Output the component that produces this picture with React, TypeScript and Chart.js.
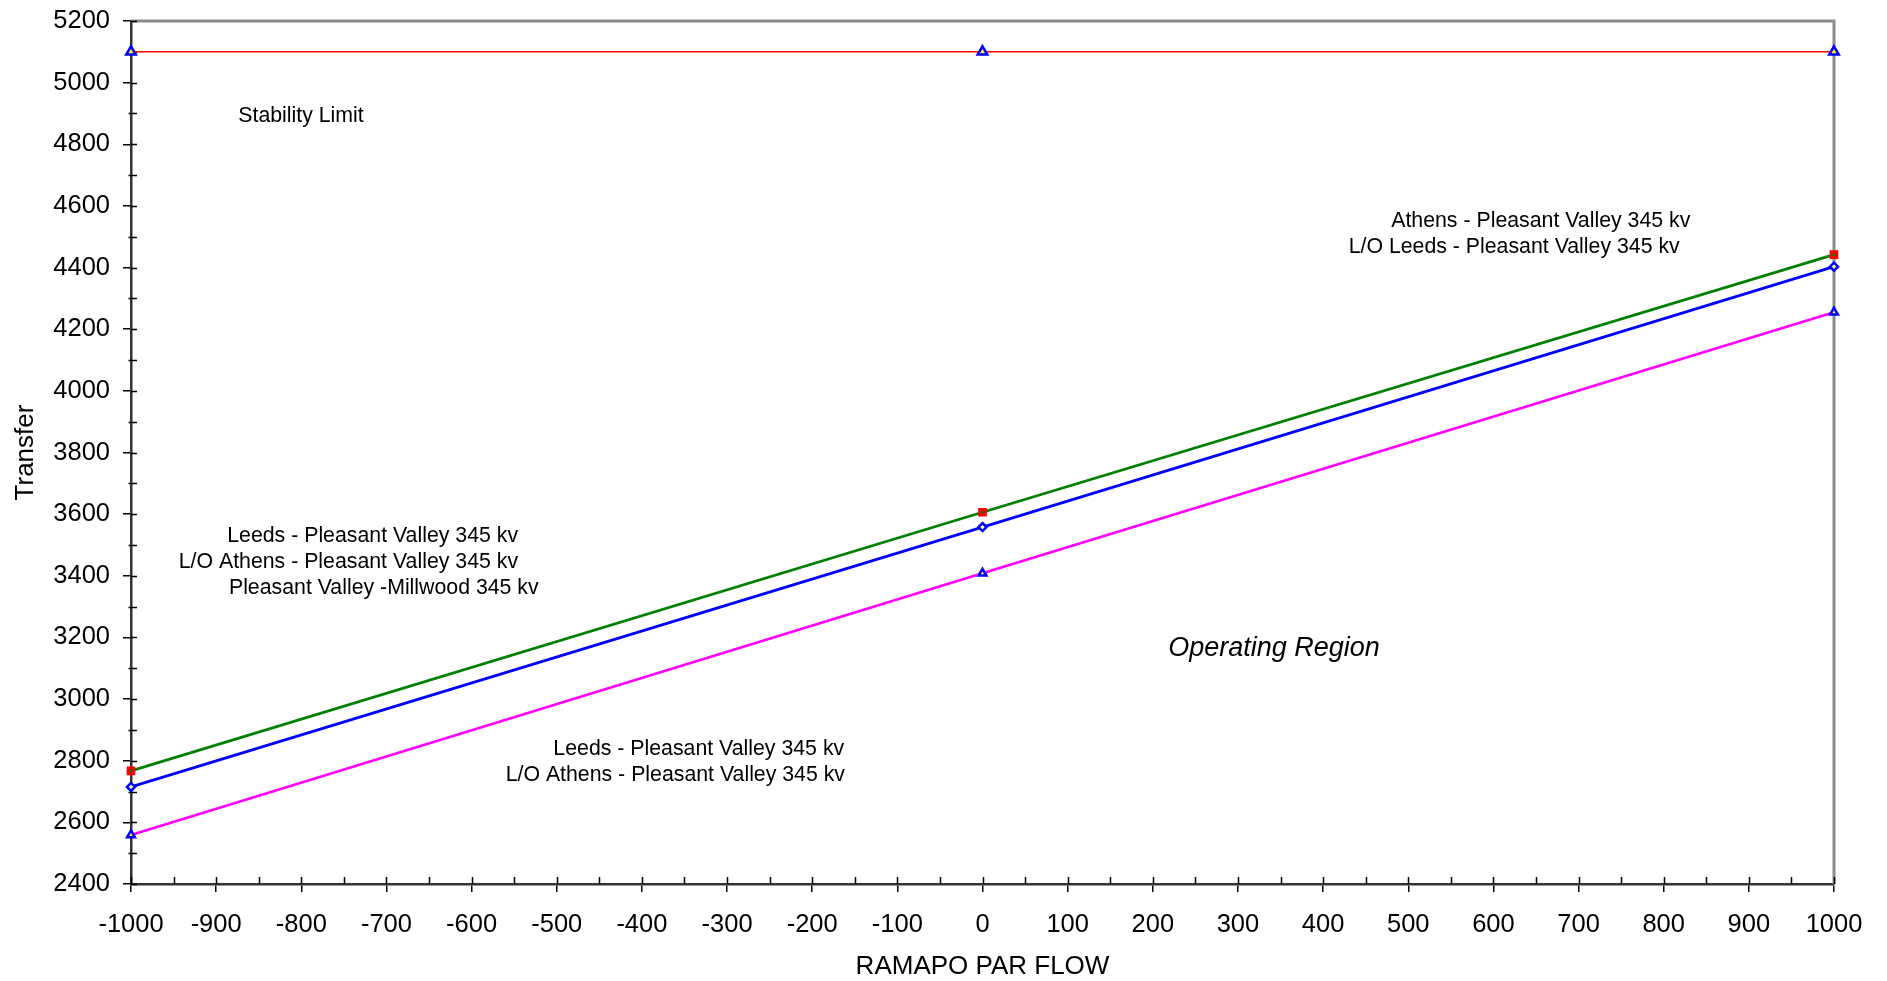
import React, { useEffect, useRef } from "react";
import { Chart, registerables } from "chart.js";

Chart.register(...registerables);

const flow = [-1000, 0, 1000];
const stabilityLimit = [5100, 5100, 5100];
const athensOutage = [2767, 3606, 4442];
const leedsOutage = [2715, 3558, 4403];
const leedsMillwoodOutage = [2559, 3408, 4255];

const yTickStep = 200;
const xTickStep = 100;

const noteTexts = [
  "Stability Limit",
  "Athens - Pleasant Valley 345 kv",
  "L/O Leeds - Pleasant Valley 345 kv",
  "Leeds - Pleasant Valley 345 kv",
  "L/O Athens - Pleasant Valley 345 kv",
  "Pleasant Valley -Millwood 345 kv",
  "Leeds - Pleasant Valley 345 kv",
  "L/O Athens - Pleasant Valley 345 kv",
  "Operating Region",
];
const noteX = [-874, 480, 430, -887, -944, -885, -504, -560, 218];
const noteY = [4891, 4551, 4467, 3530, 3445, 3359, 2837, 2754, 3165];
const noteItalic = [false, false, false, false, false, false, false, false, true];

const FONT = "'Liberation Sans', Arial, Helvetica, sans-serif";

const pts = (ys: number[]) => flow.map((x, i) => ({ x, y: ys[i] }));

const decorPlugin = {
  id: "decor",
  beforeDatasetsDraw(chart: any) {
    const { ctx, chartArea: a, scales } = chart;
    const xs = scales.x;
    const ys = scales.y;
    ctx.save();
    ctx.strokeStyle = "#8c8c8c";
    ctx.lineWidth = 3;
    ctx.beginPath();
    ctx.moveTo(a.left, a.top);
    ctx.lineTo(a.right, a.top);
    ctx.lineTo(a.right, a.bottom);
    ctx.stroke();
    ctx.strokeStyle = "#000";
    ctx.lineWidth = 1.5;
    ctx.beginPath();
    for (let v = ys.min; v <= ys.max; v += yTickStep / 2) {
      const p = Math.round(ys.getPixelForValue(v)) + 0.5;
      const minor = Math.abs(v % yTickStep) > 0.001;
      ctx.moveTo(a.left - (minor ? 2.5 : 0), p);
      ctx.lineTo(a.left + 6, p);
    }
    for (let v = xs.min; v <= xs.max; v += xTickStep / 2) {
      const p = Math.round(xs.getPixelForValue(v)) + 0.5;
      ctx.moveTo(p, a.bottom);
      ctx.lineTo(p, a.bottom - 7);
    }
    ctx.stroke();
    ctx.restore();
  },
  afterDraw(chart: any) {
    const { ctx, scales } = chart;
    ctx.save();
    ctx.fillStyle = "#000";
    ctx.textBaseline = "middle";
    ctx.textAlign = "left";
    noteTexts.forEach((t, i) => {
      ctx.font = noteItalic[i] ? `italic 27px ${FONT}` : `21.3px ${FONT}`;
      ctx.fillText(t, scales.x.getPixelForValue(noteX[i]), scales.y.getPixelForValue(noteY[i]));
    });
    ctx.restore();
  },
};

export default function App() {
  const ref = useRef<HTMLCanvasElement>(null);
  useEffect(() => {
    const canvas = ref.current!;
    const chart = new Chart(canvas, {
      type: "line",
      data: {
        datasets: [
          {
            label: "Stability Limit",
            data: pts(stabilityLimit),
            borderColor: "#ff0000",
            borderWidth: 1.5,
            pointStyle: "triangle",
            pointRadius: 5.5,
            pointBorderColor: "#0000ff",
            pointBackgroundColor: "#ffff00",
            pointBorderWidth: 2.5,
            clip: false,
          } as any,
          {
            label: "Athens - Pleasant Valley",
            data: pts(athensOutage),
            borderColor: "#008000",
            borderWidth: 2.7,
            pointStyle: "rect",
            pointRadius: 4,
            pointBorderColor: "#ff0000",
            pointBackgroundColor: "#008000",
            pointBorderWidth: 3,
            clip: false,
          },
          {
            label: "Leeds - Pleasant Valley",
            data: pts(leedsOutage),
            borderColor: "#0000ff",
            borderWidth: 2.7,
            pointStyle: "rectRot",
            pointRadius: 4,
            pointBorderColor: "#0000ff",
            pointBackgroundColor: "#ffff80",
            pointBorderWidth: 2.5,
            clip: false,
          },
          {
            label: "Leeds + Millwood",
            data: pts(leedsMillwoodOutage),
            borderColor: "#ff00ff",
            borderWidth: 2.7,
            pointStyle: "triangle",
            pointRadius: 4.5,
            pointBorderColor: "#0000ff",
            pointBackgroundColor: "#ffff00",
            pointBorderWidth: 2.5,
            clip: false,
          },
        ],
      },
      options: {
        responsive: false,
        animation: false,
        layout: { padding: { left: 0, top: 21, right: 53, bottom: 0 } },
        plugins: { legend: { display: false }, tooltip: { enabled: false } },
        elements: { line: { tension: 0 } },
        scales: {
          x: {
            type: "linear",
            min: -1000,
            max: 1000,
            afterFit: (s: any) => {
              s.height = 97;
              s.paddingLeft = 0;
              s.paddingRight = 0;
            },
            ticks: {
              stepSize: xTickStep,
              color: "#000",
              font: { family: FONT, size: 25.5 },
              padding: 18,
              maxRotation: 0,
              autoSkip: false,
              callback: (v: any) => String(v),
            },
            grid: { drawOnChartArea: false, drawTicks: true, tickLength: 8, color: "#000", lineWidth: 1.5 },
            border: { display: true, color: "#333", width: 2.5 },
            title: {
              display: true,
              text: "RAMAPO PAR FLOW",
              color: "#000",
              font: { family: FONT, size: 26, lineHeight: 1 },
              padding: { top: 0, bottom: 1 },
            },
          },
          y: {
            type: "linear",
            min: 2400,
            max: 5200,
            afterFit: (s: any) => {
              s.width = 131;
              s.paddingTop = 0;
              s.paddingBottom = 0;
            },
            ticks: {
              stepSize: yTickStep,
              color: "#000",
              font: { family: FONT, size: 25.5 },
              padding: 13,
              callback: (v: any) => String(v),
            },
            grid: { drawOnChartArea: false, drawTicks: true, tickLength: 8, color: "#000", lineWidth: 1.5 },
            border: { display: true, color: "#333", width: 2.5 },
            title: {
              display: true,
              text: "Transfer",
              color: "#000",
              font: { family: FONT, size: 26, lineHeight: 1 },
              padding: { top: 13, bottom: 0 },
            },
          },
        },
      },
      plugins: [decorPlugin],
    });
    return () => chart.destroy();
  }, []);
  return (
    <canvas
      ref={ref}
      width={1887}
      height={981}
      style={{ position: "fixed", left: 0, top: 0, width: 1887, height: 981, display: "block", background: "#fff" }}
    />
  );
}
